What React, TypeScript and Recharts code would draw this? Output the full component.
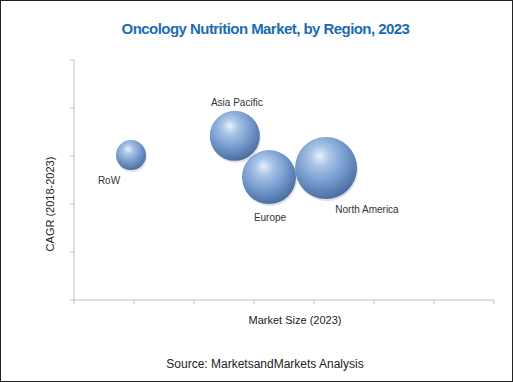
import React from "react";
import {
  ScatterChart,
  Scatter,
  XAxis,
  YAxis,
  ZAxis,
} from "recharts";

const regions = ["RoW", "Asia Pacific", "Europe", "North America"];
const marketSize = [0.95, 2.68, 3.25, 4.2];
const cagr = [3.02, 3.42, 2.56, 2.75];
const bubbleSize = [225, 625, 729, 961];

const xTicks = [0, 1, 2, 3, 4, 5, 6, 7];
const yTicks = [0, 1, 2, 3, 4, 5];

// where each name sits relative to its bubble
const labelPlacement: Record<string, { dx: number; dy: number }> = {
  RoW: { dx: -22, dy: 29 },
  "Asia Pacific": { dx: 2, dy: -30 },
  Europe: { dx: 1, dy: 44 },
  "North America": { dx: 41, dy: 45 },
};

const data = regions.map((name, i) => ({
  name,
  x: marketSize[i],
  y: cagr[i],
  z: bubbleSize[i],
}));

const AXIS = "#bfbfbf";

function Sphere(props: any) {
  const { cx, cy, payload } = props;
  const r = Math.sqrt(payload.z);
  const place = labelPlacement[payload.name];
  return (
    <g>
      <circle cx={cx + 1} cy={cy + 2} r={r} fill="#8a9ab3" opacity={0.3} />
      <circle cx={cx} cy={cy} r={r} fill="url(#sphereFill)" />
      <text
        x={cx + place.dx}
        y={cy + place.dy}
        textAnchor="middle"
        fontSize={10}
        fill="#333"
        fontFamily="'Liberation Sans', Arial, sans-serif"
      >
        {payload.name}
      </text>
    </g>
  );
}

export default function App() {
  return (
    <div
      style={{
        position: "absolute",
        left: 0,
        top: 0,
        width: 513,
        height: 382,
        boxSizing: "border-box",
        border: "1px solid #222",
        background: "#fff",
        fontFamily: "'Liberation Sans', Arial, sans-serif",
      }}
    >
      <div
        style={{
          position: "absolute",
          left: 0,
          top: 19,
          width: 511,
          textAlign: "center",
          fontWeight: 700,
          fontSize: 15,
          letterSpacing: -0.55,
          color: "#1b6db3",
          paddingLeft: 18,
          boxSizing: "border-box",
        }}
      >
        Oncology Nutrition Market, by Region, 2023
      </div>
      <div style={{ position: "absolute", left: -1, top: -1 }}>
        <ScatterChart
          width={513}
          height={382}
          margin={{ top: 60, right: 19, bottom: 78, left: 70 }}
        >
          <defs>
            <radialGradient id="sphereFill" cx="42%" cy="35%" r="65%" fx="40%" fy="30%">
              <stop offset="0%" stopColor="#e8f2fc" />
              <stop offset="25%" stopColor="#a9c4e6" />
              <stop offset="65%" stopColor="#7298cb" />
              <stop offset="100%" stopColor="#4d6e9f" />
            </radialGradient>
          </defs>
          <XAxis
            type="number"
            dataKey="x"
            domain={[0, 7]}
            ticks={xTicks}
            height={4}
            axisLine={{ stroke: AXIS }}
            tickLine={{ stroke: AXIS }}
            tickSize={4}
            tick={() => <g />}
          />
          <YAxis
            type="number"
            dataKey="y"
            domain={[0, 5]}
            ticks={yTicks}
            width={4}
            axisLine={{ stroke: AXIS }}
            tickLine={{ stroke: AXIS }}
            tickSize={4}
            tick={() => <g />}
          />
          <ZAxis type="number" dataKey="z" domain={[0, 961]} range={[0, Math.PI * 961]} />
          <Scatter data={data} shape={<Sphere />} isAnimationActive={false} />
        </ScatterChart>
      </div>
      <div
        style={{
          position: "absolute",
          left: 49,
          top: 203,
          transform: "translate(-50%, -50%) rotate(-90deg)",
          whiteSpace: "nowrap",
          fontSize: 11,
          color: "#222",
        }}
      >
        CAGR (2018-2023)
      </div>
      <div
        style={{
          position: "absolute",
          left: 294,
          top: 313,
          transform: "translateX(-50%)",
          whiteSpace: "nowrap",
          fontSize: 11,
          color: "#222",
        }}
      >
        Market Size (2023)
      </div>
      <div
        style={{
          position: "absolute",
          left: 264,
          top: 356,
          transform: "translateX(-50%)",
          whiteSpace: "nowrap",
          fontSize: 12,
          color: "#222",
        }}
      >
        Source: MarketsandMarkets Analysis
      </div>
    </div>
  );
}
